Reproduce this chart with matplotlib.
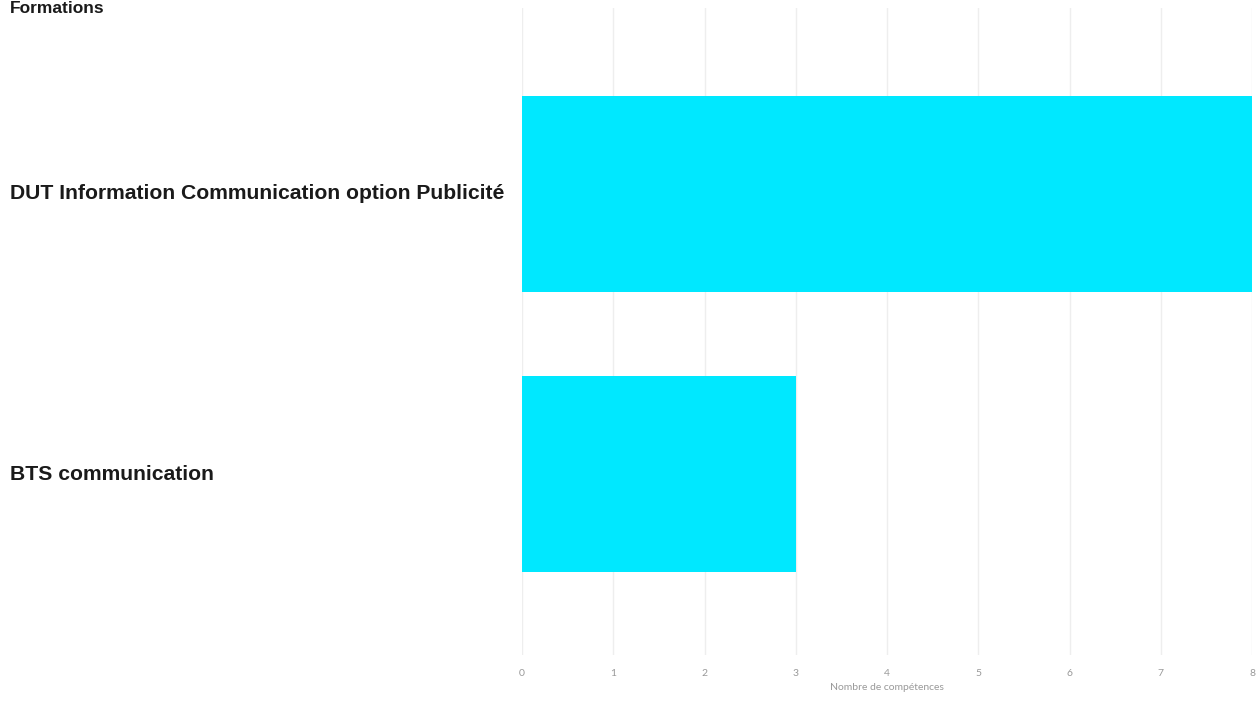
import matplotlib
matplotlib.use("Agg")
import matplotlib.pyplot as plt

categories = ["BTS communication", "DUT Information Communication option Publicité"]
values = [3, 8]
xticks = [0, 1, 2, 3, 4, 5, 6, 7, 8]

W, H = 1258, 702
fig = plt.figure(figsize=(W / 100, H / 100), dpi=100)
left, right, top, bottom = 522, 1252, 8, 655
ax = fig.add_axes([left / W, 1 - bottom / H, (right - left) / W, (bottom - top) / H])

ax.barh(range(len(categories)), values, height=0.7, color="#00e8ff", zorder=2)
ax.set_xlim(0, 8)
ax.set_ylim(-0.646, 1.664)
ax.set_xticks(xticks)
ax.set_xticklabels([str(t) for t in xticks], fontsize=7.5, color="#999999", family="Lato")
ax.tick_params(axis="x", length=0, pad=10)
ax.set_yticks([])
ax.grid(axis="x", color="#eeeeee", linewidth=1, zorder=0)
for s in ax.spines.values():
    s.set_visible(False)
ax.set_xlabel("Nombre de compétences", fontsize=7.5, color="#999999", family="Lato", labelpad=4)

# category labels at left, in figure coordinates
trans = matplotlib.transforms.blended_transform_factory(fig.transFigure, ax.transData)
for i, c in enumerate(categories):
    ax.text(10 / W, i, c, transform=trans, ha="left", va="center", fontsize=15.2,
            fontweight="bold", color="#1a1a1a", family="Liberation Sans")

fig.text(10 / W, 1 - 1 / H, "Formations", ha="left", va="top", fontsize=12.5, fontweight="bold",
         color="#1a1a1a", family="Liberation Sans")

fig.savefig("out.png", dpi=100)
